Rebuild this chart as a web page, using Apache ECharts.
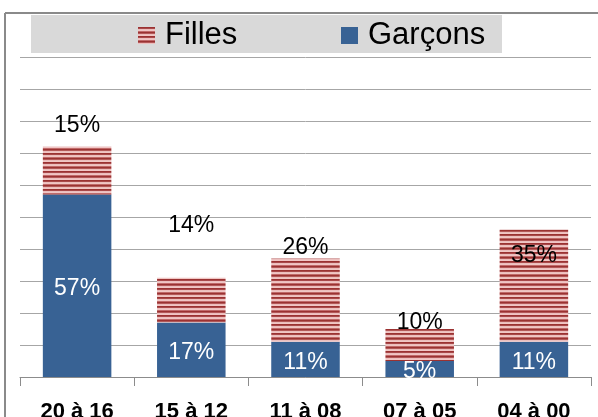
<!DOCTYPE html>
<html>
<head>
<meta charset="utf-8">
<script src="https://cdn.jsdelivr.net/npm/echarts@6/dist/echarts.min.js"></script>
<style>
html,body{margin:0;padding:0;background:#fff;}
#chart{width:598px;height:417px;}
</style>
</head>
<body>
<div id="chart"></div>
<script>
const categories = ['20 à 16', '15 à 12', '11 à 08', '07 à 05', '04 à 00'];
const garcons = [57, 17, 11, 5, 11];
const filles = [15, 14, 26, 10, 35];
const yTicks = { min: 0, max: 100, interval: 10 };
// manual label nudges (style only)
const fillesLabelOffsets = [-4, -36, 6, 10, 42];

const FONT = 'Liberation Sans';

function stripePattern() {
  const c = document.createElement('canvas');
  c.width = 4; c.height = 9;
  const ctx = c.getContext('2d');
  const rows = ['#9b3232', '#a9494a', '#ecbebd', '#f0c6c5', '#c06a6a', '#9b3232', '#b35858', '#ecbebd', '#f0c6c5'];
  rows.forEach((col, i) => { ctx.fillStyle = col; ctx.fillRect(0, i, 4, 1); });
  return { image: c, repeat: 'repeat' };
}
const redPattern = stripePattern();
const blue = '#386294';

const chart = echarts.init(document.getElementById('chart'), null, { renderer: 'canvas' });

const fillesData = filles.map((v, i) => ({
  value: v,
  label: { offset: [0, fillesLabelOffsets[i]] }
}));

chart.setOption({
  animation: false,
  textStyle: { fontFamily: FONT },
  graphic: [
    { type: 'rect', z: 0, shape: { x: 31, y: 15, width: 471, height: 38 }, style: { fill: '#d9d9d9' } },
    { type: 'line', z: 0, shape: { x1: 5, y1: 13, x2: 598, y2: 13 }, style: { stroke: '#8a8a8a', lineWidth: 2 } },
    { type: 'line', z: 0, shape: { x1: 5, y1: 13, x2: 5, y2: 417 }, style: { stroke: '#8a8a8a', lineWidth: 2 } }
  ],
  legend: [
    {
      data: ['Filles'], left: 138, top: 20, padding: 0,
      itemWidth: 17, itemHeight: 17, itemGap: 10, icon: 'rect',
      textStyle: { fontFamily: FONT, fontSize: 31, color: '#000', lineHeight: 30, padding: [0, 0, 0, 5] }
    },
    {
      data: ['Garçons'], left: 341, top: 20, padding: 0,
      itemWidth: 17, itemHeight: 17, itemGap: 10, icon: 'rect',
      textStyle: { fontFamily: FONT, fontSize: 31, color: '#000', lineHeight: 30, padding: [0, 0, 0, 5] }
    }
  ],
  grid: { left: 20, right: 7, top: 57, bottom: 40, containLabel: false, outerBoundsMode: 'none' },
  xAxis: {
    type: 'category',
    data: categories,
    axisLine: { lineStyle: { color: '#8c8c8c', width: 1 } },
    axisTick: { show: true, length: 9, lineStyle: { color: '#8c8c8c' } },
    axisLabel: { color: '#000', fontSize: 22, fontWeight: 'bold', fontFamily: FONT, margin: 24, interval: 0 }
  },
  yAxis: {
    type: 'value',
    min: yTicks.min, max: yTicks.max, interval: yTicks.interval,
    axisLabel: { show: false },
    axisLine: { show: false },
    axisTick: { show: false },
    splitLine: { lineStyle: { color: '#a6a6a6', width: 1 } }
  },
  series: [
    {
      name: 'Garçons', type: 'bar', stack: 'total', barWidth: '60%',
      data: garcons,
      itemStyle: { color: blue },
      label: { show: true, position: 'inside', offset: [0, 3], color: '#fff', fontSize: 23, fontFamily: FONT, formatter: '{c}%' }
    },
    {
      name: 'Filles', type: 'bar', stack: 'total', barWidth: '60%',
      data: fillesData,
      itemStyle: { color: redPattern },
      label: { show: true, position: 'top', distance: 5, color: '#000', fontSize: 23, fontFamily: FONT, formatter: '{c}%' }
    }
  ]
});
</script>
</body>
</html>
